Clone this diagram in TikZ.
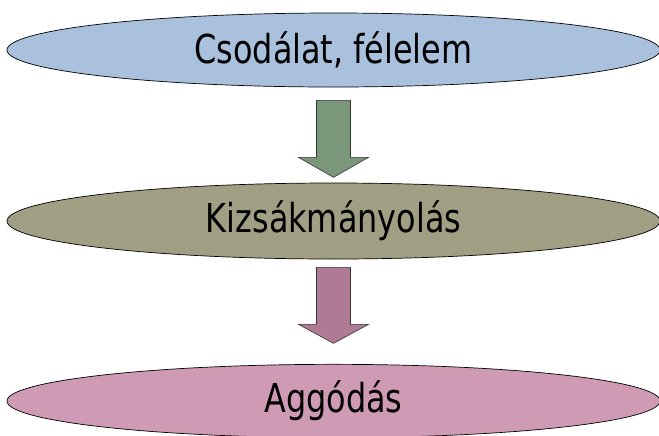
\documentclass[tikz,border=0pt]{standalone}
\usepackage{fontspec}
\setmainfont[FakeStretch=0.8]{DejaVu Sans}
\usetikzlibrary{shapes.geometric,calc}

\definecolor{wonderblue}{RGB}{170,193,222}
\definecolor{exploitolive}{RGB}{160,159,131}
\definecolor{worrypink}{RGB}{207,155,180}
\definecolor{arrowgreen}{RGB}{122,151,122}
\definecolor{arrowmauve}{RGB}{174,122,148}

\begin{document}
\begin{tikzpicture}[x=0.03cm,y=-0.03cm,
  stage/.style={ellipse,draw=black,line width=0.6pt,inner sep=0pt,
    minimum width=19.59cm,font=\fontsize{34}{40}\selectfont},
  blockarrow/.style={draw=black!80,line width=0.5pt,line join=miter}]
\useasboundingbox (0,0) rectangle (659,435);

\node[stage,fill=wonderblue,minimum height=2.22cm] (wonder) at (333.5,50) {Csodálat, félelem};
\node[stage,fill=exploitolive,minimum height=2.28cm] (exploit) at (333.5,221) {Kizsákmányolás};
\node[stage,fill=worrypink,minimum height=2.2cm] (worry) at (333.5,401) {Aggódás};

% block arrows between the stages
\draw[blockarrow,fill=arrowgreen] ($(wonder.south)+(-17,13)$) -- ++(34,0) -- ++(0,57)
  -- ++(18,0) -- ++(-35,20) -- ++(-35,-20) -- ++(18,0) -- cycle;
\draw[blockarrow,fill=arrowmauve] ($(exploit.south)+(-17,8)$) -- ++(34,0) -- ++(0,57)
  -- ++(18,0) -- ++(-35,19) -- ++(-35,-19) -- ++(18,0) -- cycle;

\end{tikzpicture}
\end{document}
